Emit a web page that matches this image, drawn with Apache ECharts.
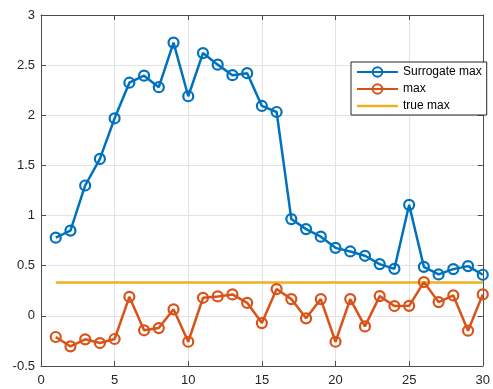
<!DOCTYPE html>
<html><head><meta charset="utf-8">
<script src="https://cdn.jsdelivr.net/npm/echarts@6/dist/echarts.min.js"></script>
<style>html,body{margin:0;padding:0;background:#fff}#c{width:493px;height:389px}</style>
</head><body><div id="c"></div>
<script>
const iterations = [1,2,3,4,5,6,7,8,9,10,11,12,13,14,15,16,17,18,19,20,21,22,23,24,25,26,27,28,29,30];
const surrogateMax = [0.78,0.85,1.30,1.565,1.97,2.325,2.395,2.28,2.725,2.19,2.62,2.505,2.40,2.42,2.093,2.033,0.965,0.865,0.79,0.678,0.642,0.599,0.516,0.469,1.107,0.489,0.413,0.466,0.496,0.41];
const maxVals = [-0.211,-0.304,-0.234,-0.271,-0.231,0.19,-0.144,-0.122,0.065,-0.258,0.18,0.194,0.214,0.13,-0.072,0.267,0.167,-0.025,0.167,-0.258,0.167,-0.105,0.197,0.098,0.10,0.337,0.137,0.204,-0.148,0.214];
const trueMax = 0.333;
const trueMaxX = [1,30];
const xTicks = [0,5,10,15,20,25,30];
const yTicks = [-0.5,0,0.5,1,1.5,2,2.5,3];

const blue = '#0072BD', orange = '#D95319', yellow = '#EDB120';
const axisCol = '#4d4d4d';
const chart = echarts.init(document.getElementById('c'), null, {renderer:'canvas'});
const pair = (xs, ys) => xs.map((x,i)=>[x, ys[i]]);
const lineSeries = (name, data, color) => ({
  name, type:'line', data, symbol:'circle', symbolSize:10,
  lineStyle:{color, width:2.5},
  itemStyle:{color:'rgba(255,255,255,0)', borderColor:color, borderWidth:2.2},
  emphasis:{disabled:true}, animation:false, z:3
});
const mkX = (pos, show) => ({
  type:'value', min:xTicks[0], max:xTicks[xTicks.length-1], interval:5, position:pos,
  axisLine:{show:true, onZero:false, lineStyle:{color:axisCol, width:1}},
  axisTick:{show:true, inside:true, length:5, lineStyle:{color:axisCol}},
  axisLabel:{show:show, color:'#262626', fontSize:13, fontFamily:'Liberation Sans, Arial', margin:8},
  splitLine:{show:show, lineStyle:{color:'#e3e3e3', width:1}}
});
const mkY = (pos, show) => ({
  type:'value', min:yTicks[0], max:yTicks[yTicks.length-1], interval:0.5, position:pos,
  axisLine:{show:true, onZero:false, lineStyle:{color:axisCol, width:1}},
  axisTick:{show:true, inside:true, length:5, lineStyle:{color:axisCol}},
  axisLabel:{show:show, color:'#262626', fontSize:13, fontFamily:'Liberation Sans, Arial', margin:6},
  splitLine:{show:show, lineStyle:{color:'#e3e3e3', width:1}}
});
chart.setOption({
  animation:false,
  backgroundColor:'#fff',
  grid:{left:41, right:7, top:15, bottom:23},
  xAxis:[mkX('bottom', true), mkX('top', false)],
  yAxis:[mkY('left', true), mkY('right', false)],
  legend:{
    orient:'vertical', left:351, top:62,
    itemWidth:41, itemHeight:12, itemGap:5,
    padding:[4,5,3,5],
    backgroundColor:'#fff', borderColor:'#262626', borderWidth:1,
    textStyle:{color:'#000', fontSize:12, fontFamily:'Liberation Sans, Arial'},
    data:['Surrogate max','max',{name:'true max', icon:'path://M0,0 L41,0 L41,2.5 L0,2.5 Z', itemStyle:{color:yellow, borderWidth:0}}]
  },
  series:[
    lineSeries('Surrogate max', pair(iterations, surrogateMax), blue),
    lineSeries('max', pair(iterations, maxVals), orange),
    {name:'true max', type:'line', data:trueMaxX.map(x=>[x,trueMax]), symbol:'none',
     lineStyle:{color:yellow, width:2.5}, itemStyle:{color:yellow}, z:2, emphasis:{disabled:true}}
  ]
});
</script></body></html>
